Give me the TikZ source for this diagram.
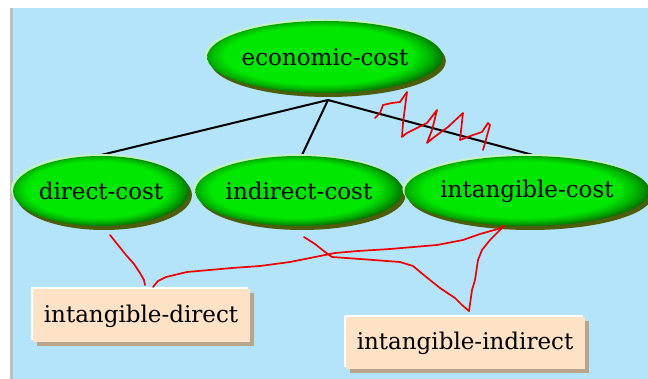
\documentclass[tikz,border=0pt]{standalone}
\usepackage{fontspec}
\setmainfont{DejaVu Serif}
\usetikzlibrary{shapes.geometric,shadows}
\definecolor{bgblue}{RGB}{180,228,250}
\definecolor{ovgreen}{RGB}{0,232,0}
\definecolor{ovdark}{RGB}{75,95,10}
\definecolor{ovlight}{RGB}{195,242,195}
\definecolor{peach}{RGB}{253,226,197}
\definecolor{boxshade}{RGB}{185,165,140}
\definecolor{inkred}{RGB}{238,0,0}
\definecolor{edgegray}{RGB}{190,190,190}
\pgfdeclareradialshading{ovalshade}{\pgfpoint{-2bp}{2bp}}{color(0bp)=(ovgreen); color(20bp)=(ovgreen); color(23bp)=(ovgreen!80!black); color(26bp)=(ovgreen!50!black); color(50bp)=(ovgreen!45!black)}
\begin{document}
\begin{tikzpicture}[x=1pt,y=-1pt,
  oval/.style={ellipse, inner sep=0pt, shade, shading=ovalshade,
    general shadow={shadow xshift=3pt, shadow yshift=-4pt, fill=ovdark},
    general shadow={shadow xshift=-2pt, shadow yshift=2pt, fill=ovlight},
    font=\fontsize{23}{23}\selectfont},
  labelbox/.style={rectangle, inner sep=0pt, fill=peach,
    general shadow={shadow xshift=4pt, shadow yshift=-4pt, fill=boxshade},
    general shadow={shadow xshift=-2pt, shadow yshift=2pt, fill=white},
    font=\fontsize{23}{23}\selectfont},
  treeline/.style={black, line width=2pt},
  inkline/.style={inkred, line width=1.7pt, line join=round, line cap=round}]
\useasboundingbox (0,0) rectangle (648,379);
\fill[white] (0,0) rectangle (648,379);
\fill[bgblue] (10,8) rectangle (648,379);
\fill[edgegray] (10,8) rectangle (13,379);

% tree lines (behind ovals)
\coordinate (apex) at (328,100);
\coordinate (dtop) at (101,155);
\coordinate (itop) at (302,155);
\coordinate (ttop) at (533,155);
\draw[treeline] (apex) -- (dtop);
\draw[treeline] (apex) -- (itop);
\draw[treeline] (apex) -- (ttop);

% ovals
\node[oval, minimum width=218pt, minimum height=72pt] (eco) at (325,57) {economic-cost};
\node[oval, minimum width=160pt, minimum height=70pt] (dc) at (101,191) {direct-cost};
\node[oval, minimum width=192pt, minimum height=70pt] (ic) at (299,191) {indirect-cost};
\node[oval, minimum width=222pt, minimum height=70pt] (tc) at (527,191) {intangible-cost};

% boxes
\node[labelbox, minimum width=217pt, minimum height=53pt] (bd) at (141,316) {intangible-direct};
\node[labelbox, minimum width=239pt, minimum height=51pt] (bi) at (465,343) {intangible-indirect};

% squiggle over the line to intangible-cost
\draw[inkline] (375,118) -- (380,113) -- (383,105) -- (392,103) -- (400,102) -- (407,92)
  -- (403,123) -- (402,137) -- (407,133) -- (427,123) -- (437,110) -- (432,130) -- (427,143)
  -- (433,138) -- (448,127) -- (463,113) -- (460,140) -- (473,135) -- (482,132) -- (488,123)
  -- (490,125) -- (485,143) -- (483,150);

% hand-drawn links
\coordinate (da) at (110,235);
\coordinate (db) at (145,285);
\coordinate (dd) at (153,287);
\coordinate (tb) at (504,226);
\coordinate (ia) at (304,237);
\coordinate (ib) at (469,311);
\draw[inkline] (da) -- (118,245) -- (126,255) -- (134,264) -- (140,273) -- (144,280) -- (db);
\draw[inkline] (dd) -- (158,281) -- (166,277) -- (187,272) -- (232,268) -- (260,266) -- (290,262)
  -- (320,256) -- (335,253) -- (358,251) -- (390,249) -- (437,245) -- (463,240) -- (480,234)
  -- (498,229) -- (tb);
\draw[inkline] (ia) -- (315,244) -- (325,252) -- (332,257) -- (360,259) -- (400,262) -- (413,266)
  -- (425,276) -- (440,288) -- (455,298) -- (462,305) -- (ib);
\draw[inkline] (ib) -- (472,290) -- (475,280) -- (478,260) -- (482,250) -- (490,240) -- (500,230) -- (tb);
\end{tikzpicture}
\end{document}
